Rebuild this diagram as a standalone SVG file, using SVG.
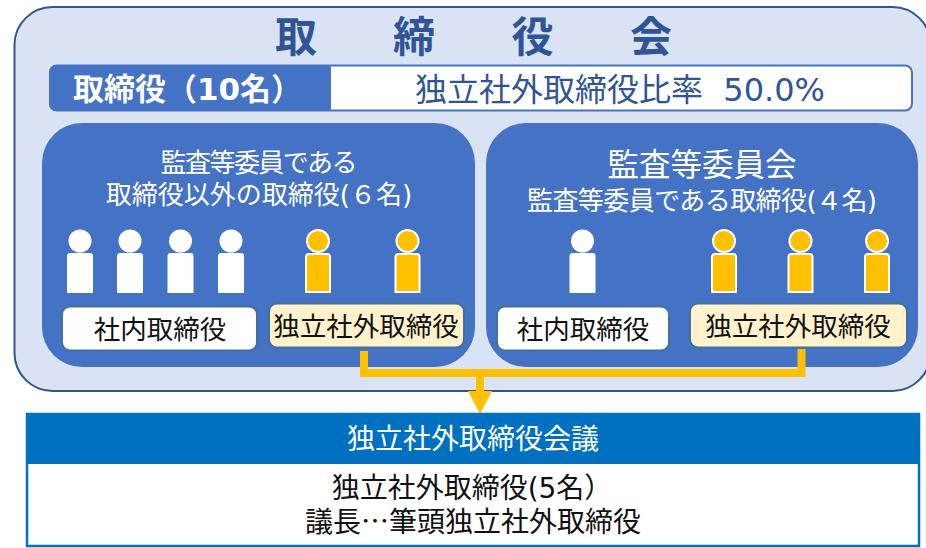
<svg xmlns="http://www.w3.org/2000/svg" width="926" height="548" viewBox="0 0 926 548">
<style>
text{font-family:"DejaVu Sans","Noto Sans CJK JP",sans-serif;text-anchor:middle}
.panel{fill:#4472C4}
.w{fill:#fff}
.y{fill:#FFC000;stroke:#fff;stroke-width:2}
.boxw{fill:#fff;stroke:#41719C;stroke-width:2}
.boxy{fill:#FFF2CC;stroke:#41719C;stroke-width:2}
.lbl{font-size:26.500px;fill:#111}
.body{font-size:28px;fill:#111}
.pt{fill:#fff;font-size:26px}
.blue{fill:#2F5597}
</style>
<defs>
<g id="pw"><circle cx="0" cy="241" r="11.500" class="w"/><path d="M-13 256a3 3 0 0 1 3-3h20a3 3 0 0 1 3 3v37h-26z" class="w"/></g>
<g id="py"><circle cx="0" cy="241" r="11" class="y"/><path d="M-12 257a3 3 0 0 1 3-3h18a3 3 0 0 1 3 3v35h-24z" class="y"/></g>
</defs>
<rect width="926" height="548" fill="#fff"/>
<g id="board">
<rect x="14.500" y="7" width="916" height="384" rx="38" fill="#DAE3F3" stroke="#2F5597" stroke-width="2"/>
<text x="296 414 532.500 651" y="52" font-size="42" font-weight="bold" class="blue">取締役会</text>
</g>
<g id="ratio-bar">
<rect x="50" y="65.500" width="862" height="45" rx="7" fill="#fff" stroke="#4472C4" stroke-width="2"/>
<path d="M331 65H56a7 7 0 0 0-7 7v32a7 7 0 0 0 7 7h275z" class="panel"/>
<text x="187.500" y="100" font-size="31" font-weight="bold" fill="#fff">取締役（10名）</text>
<text x="620" y="101" font-size="32" class="blue" xml:space="preserve">独立社外取締役比率  50.0%</text>
</g>
<g id="panel-left">
<rect x="42" y="123" width="433" height="244" rx="40" class="panel"/>
<text x="259" y="172" class="pt" textLength="197">監査等委員である</text>
<text x="259" y="204" class="pt">取締役以外の取締役(６名)</text>
<use href="#pw" x="80"/><use href="#pw" x="130"/><use href="#pw" x="180.500"/><use href="#pw" x="231"/>
<use href="#py" x="318"/><use href="#py" x="407.500"/>
</g>
<g id="panel-right">
<rect x="486" y="123" width="432" height="244" rx="40" class="panel"/>
<text x="702" y="176" font-size="31.500" fill="#fff">監査等委員会</text>
<text x="702" y="210" class="pt" textLength="350">監査等委員である取締役(４名)</text>
<use href="#pw" x="582.500"/>
<use href="#py" x="724"/><use href="#py" x="800.500"/><use href="#py" x="877"/>
</g>
<g id="box-internal-left"><rect x="62" y="306.500" width="195" height="44" rx="8" class="boxw"/><text x="160" y="339" class="lbl">社内取締役</text></g>
<g id="box-outside-left"><rect x="269" y="303.500" width="195" height="44" rx="8" class="boxy"/><text x="366" y="336" class="lbl">独立社外取締役</text></g>
<g id="box-internal-right"><rect x="497" y="306.500" width="172" height="44" rx="8" class="boxw"/><text x="583" y="339" class="lbl">社内取締役</text></g>
<g id="box-outside-right"><rect x="690" y="303.500" width="217" height="44" rx="8" class="boxy"/><text x="798" y="336" class="lbl">独立社外取締役</text></g>
<g id="connectors">
<path d="M364 351V373H801.500V349M480 373V392" fill="none" stroke="#FFC000" stroke-width="8"/>
<path d="M468 391H492L480 414z" fill="#FFC000"/>
</g>
<g id="council">
<rect x="27" y="414" width="892" height="132" fill="#fff" stroke="#0070C0" stroke-width="2.500"/>
<rect x="26" y="413" width="894" height="51" fill="#0070C0"/>
<text x="473" y="449" font-size="28" fill="#fff">独立社外取締役会議</text>
<text x="472" y="498" class="body">独立社外取締役(5名）</text>
<text x="473" y="532" class="body" style="font-family:'Noto Sans CJK JP',sans-serif">議長…筆頭独立社外取締役</text>
</g>
</svg>
